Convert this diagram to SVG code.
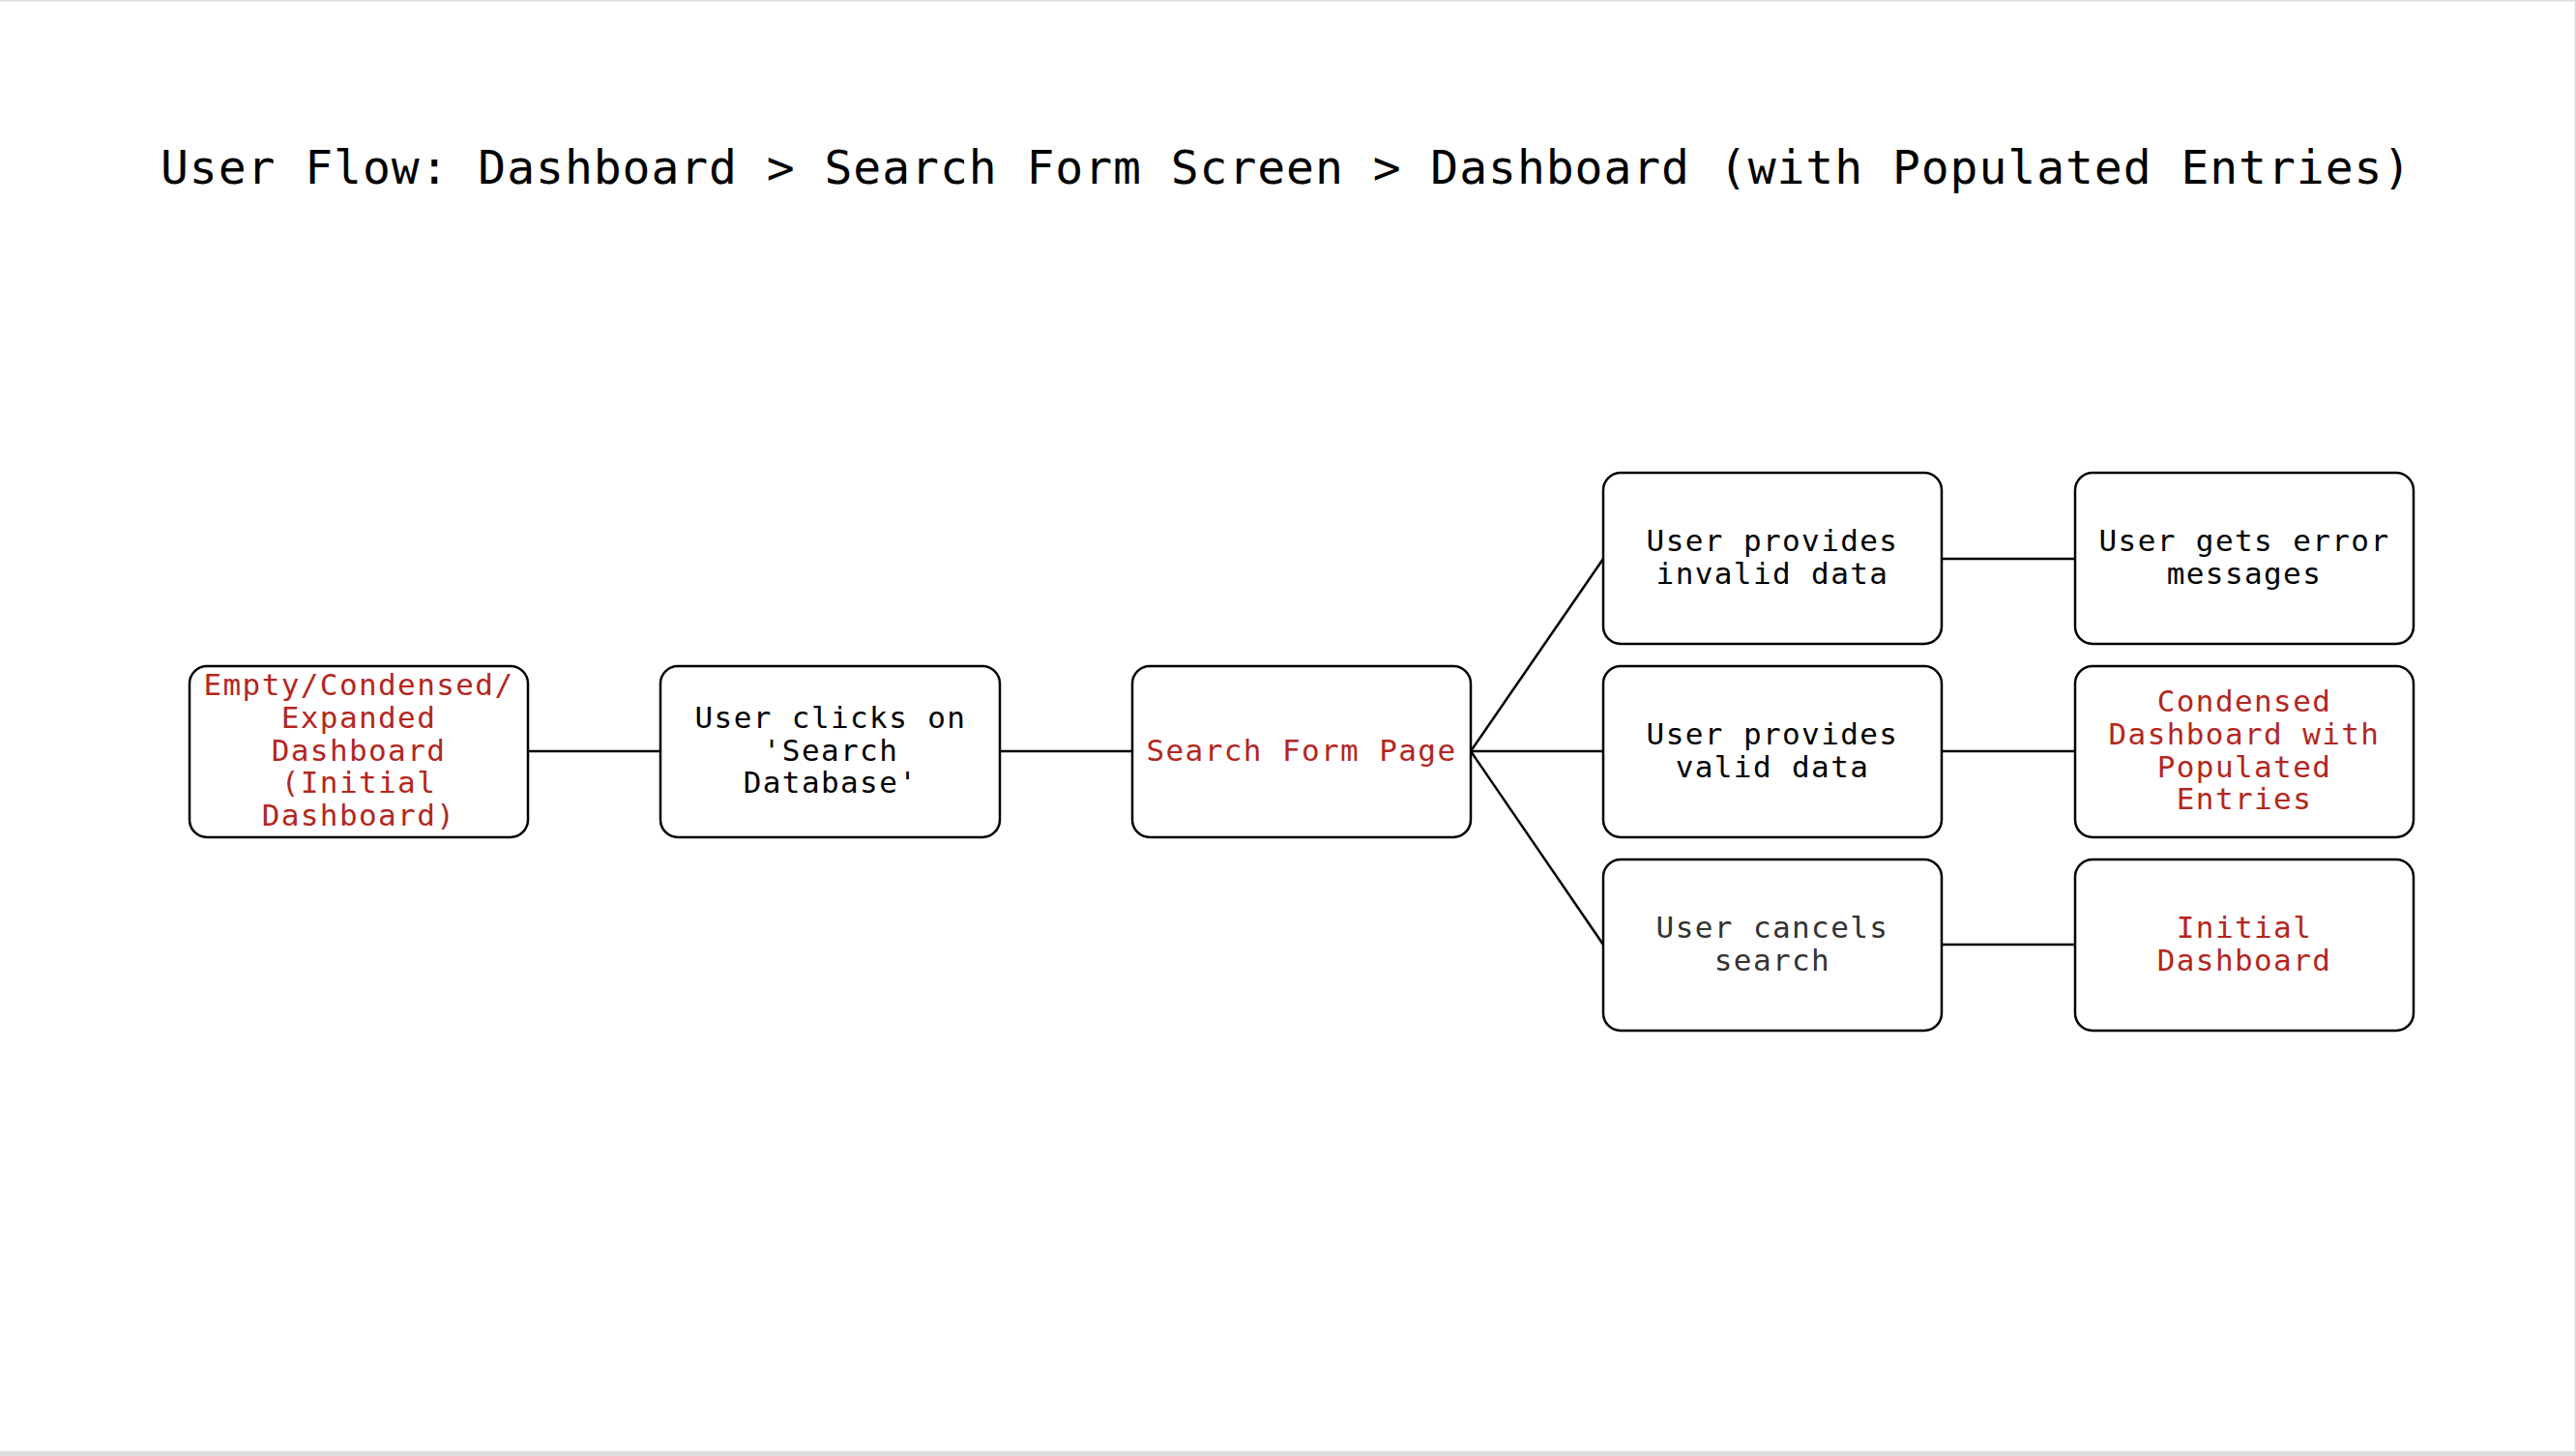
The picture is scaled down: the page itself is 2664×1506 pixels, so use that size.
<svg xmlns="http://www.w3.org/2000/svg" width="2664" height="1506" viewBox="0 0 2664 1506">
  <style>
    .box { fill: #ffffff; stroke: #000000; stroke-width: 2.5; }
    .t { font-family: "DejaVu Sans Mono", "Liberation Mono", monospace; font-size: 31px; letter-spacing: 1.4px; text-anchor: middle; }
    .blk { fill: #000000; }
    .red { fill: #b3261e; }
    .gry { fill: #333333; }
    .title { font-family: "DejaVu Sans Mono", "Liberation Mono", monospace; font-size: 48px; letter-spacing: 0.95px; fill: #000000; }
    .edge { stroke: #000000; stroke-width: 2.5; fill: none; }
  </style>
  <rect x="0" y="0" width="2664" height="1506" fill="#dcdcdc"/>
  <rect x="0" y="1.5" width="2662.5" height="1499.5" fill="#ffffff"/>

  <text class="title" x="166" y="190">User Flow: Dashboard &gt; Search Form Screen &gt; Dashboard (with Populated Entries)</text>

  <g id="connectors">
    <line class="edge" x1="546" y1="777" x2="683" y2="777"/>
    <line class="edge" x1="1034" y1="777" x2="1171" y2="777"/>
    <line class="edge" x1="1521" y1="777" x2="1658" y2="578"/>
    <line class="edge" x1="1521" y1="777" x2="1658" y2="777"/>
    <line class="edge" x1="1521" y1="777" x2="1658" y2="977"/>
    <line class="edge" x1="2008" y1="578" x2="2146" y2="578"/>
    <line class="edge" x1="2008" y1="777" x2="2146" y2="777"/>
    <line class="edge" x1="2008" y1="977" x2="2146" y2="977"/>
  </g>

  <g id="node-initial-dashboard">
    <rect class="box" x="196" y="689" width="350" height="177" rx="18"/>
    <text class="t red" x="371" y="719">Empty/Condensed/</text>
    <text class="t red" x="371" y="753">Expanded</text>
    <text class="t red" x="371" y="787">Dashboard</text>
    <text class="t red" x="371" y="820">(Initial</text>
    <text class="t red" x="371" y="854">Dashboard)</text>
  </g>

  <g id="node-clicks-search">
    <rect class="box" x="683" y="689" width="351" height="177" rx="18"/>
    <text class="t blk" x="859" y="753">User clicks on</text>
    <text class="t blk" x="859" y="787">'Search</text>
    <text class="t blk" x="859" y="820">Database'</text>
  </g>

  <g id="node-search-form">
    <rect class="box" x="1171" y="689" width="350" height="177" rx="18"/>
    <text class="t red" x="1346" y="787">Search Form Page</text>
  </g>

  <g id="node-invalid">
    <rect class="box" x="1658" y="489" width="350" height="177" rx="18"/>
    <text class="t blk" x="1833" y="570">User provides</text>
    <text class="t blk" x="1833" y="604">invalid data</text>
  </g>

  <g id="node-valid">
    <rect class="box" x="1658" y="689" width="350" height="177" rx="18"/>
    <text class="t blk" x="1833" y="770">User provides</text>
    <text class="t blk" x="1833" y="804">valid data</text>
  </g>

  <g id="node-cancel">
    <rect class="box" x="1658" y="889" width="350" height="177" rx="18"/>
    <text class="t gry" x="1833" y="970">User cancels</text>
    <text class="t gry" x="1833" y="1004">search</text>
  </g>

  <g id="node-errors">
    <rect class="box" x="2146" y="489" width="350" height="177" rx="18"/>
    <text class="t blk" x="2321" y="570">User gets error</text>
    <text class="t blk" x="2321" y="604">messages</text>
  </g>

  <g id="node-populated">
    <rect class="box" x="2146" y="689" width="350" height="177" rx="18"/>
    <text class="t red" x="2321" y="736">Condensed</text>
    <text class="t red" x="2321" y="770">Dashboard with</text>
    <text class="t red" x="2321" y="804">Populated</text>
    <text class="t red" x="2321" y="837">Entries</text>
  </g>

  <g id="node-back-initial">
    <rect class="box" x="2146" y="889" width="350" height="177" rx="18"/>
    <text class="t red" x="2321" y="970">Initial</text>
    <text class="t red" x="2321" y="1004">Dashboard</text>
  </g>
</svg>
